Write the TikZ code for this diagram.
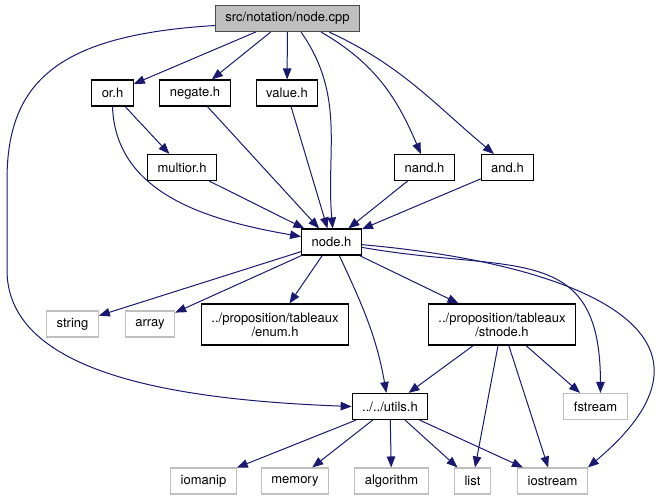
\documentclass[tikz,border=0pt]{standalone}
\usepackage{fontspec}
\setmainfont{TeX Gyre Heros}
\usetikzlibrary{arrows.meta}
\definecolor{edgeblue}{HTML}{191970}
\definecolor{extgrey}{HTML}{BFBFBF}
\begin{document}
\begin{tikzpicture}[x=1pt,y=-1pt,
  font=\fontsize{13}{14}\selectfont,
  hdr/.style={draw=black, line width=1.1pt, fill=white, align=center, minimum height=26pt, inner xsep=10pt, inner ysep=0pt},
  sys/.style={hdr, draw=extgrey},
  dep/.style={draw=edgeblue, line width=1pt, -{Triangle[length=11pt,width=8.5pt]}}]
\useasboundingbox (0,0) rectangle (660,500);
\node[hdr, fill=extgrey, draw=black!70] (cpp) at (287.5,18.5) {src/notation/node.cpp};
\node[hdr] (orh) at (112.5,93) {or.h};
\node[hdr] (negate) at (195,93) {negate.h};
\node[hdr] (value) at (287,93) {value.h};
\node[hdr] (multior) at (182,167.5) {multior.h};
\node[hdr] (nand) at (424.5,167.5) {nand.h};
\node[hdr] (andh) at (507.5,167.5) {and.h};
\node[hdr] (nodeh) at (331.5,242) {node.h};
\node[sys] (string) at (72.5,324) {string};
\node[sys] (array) at (150,324) {array};
\node[hdr, minimum height=41pt] (enum) at (275,324.5) {../proposition/tableaux\\/enum.h};
\node[hdr, minimum height=41pt] (stnode) at (502,324.5) {../proposition/tableaux\\/stnode.h};
\node[hdr] (utils) at (390,406.5) {../../utils.h};
\node[sys] (fstream) at (595.5,406.5) {fstream};
\node[sys] (iomanip) at (203.5,481) {iomanip};
\node[sys] (memory) at (295,481) {memory};
\node[sys] (algorithm) at (391.5,481) {algorithm};
\node[sys] (list) at (472.5,481) {list};
\node[sys] (iostream) at (552.5,481) {iostream};
\draw[dep] (cpp) -- (orh);
\draw[dep] (cpp) -- (negate);
\draw[dep] (cpp) -- (value);
\draw[dep] (cpp.-45) to[out=-55, in=95] (nodeh.85);
\draw[dep] (cpp.-22) to[out=-30, in=113] (nand.105);
\draw[dep] (cpp.-18) to[out=-25, in=140] (andh.135);
\draw[dep] ([yshift=-7pt]cpp.west) .. controls (60,35) and (7,80) .. (7,180) -- (7,270) .. controls (7,375) and (180,400) .. (utils.west);
\draw[dep] (orh) -- (multior);
\draw[dep] (orh.south) to[out=-88, in=170] (nodeh.170);
\draw[dep] (negate) -- (nodeh);
\draw[dep] (value) -- (nodeh);
\draw[dep] (multior) -- (nodeh);
\draw[dep] (nand) -- (nodeh);
\draw[dep] (andh) -- (nodeh);
\draw[dep] (nodeh) -- (string);
\draw[dep] (nodeh) -- (array);
\draw[dep] (nodeh) -- (enum);
\draw[dep] (nodeh.-60) to[out=-65, in=100] (utils.105);
\draw[dep] (nodeh) -- (stnode);
\draw[dep] (nodeh.-10) to[out=-10, in=90, looseness=1.4] (fstream.70);
\draw[dep] (nodeh.-5) to[out=-5, in=40, looseness=1.7] (iostream.north east);
\draw[dep] (stnode) -- (utils);
\draw[dep] (stnode) -- (list);
\draw[dep] (stnode) -- (iostream);
\draw[dep] (stnode) -- (fstream);
\draw[dep] (utils) -- (iomanip);
\draw[dep] (utils) -- (memory);
\draw[dep] (utils) -- (algorithm);
\draw[dep] (utils) -- (list);
\draw[dep] (utils) -- (iostream);
\end{tikzpicture}
\end{document}
